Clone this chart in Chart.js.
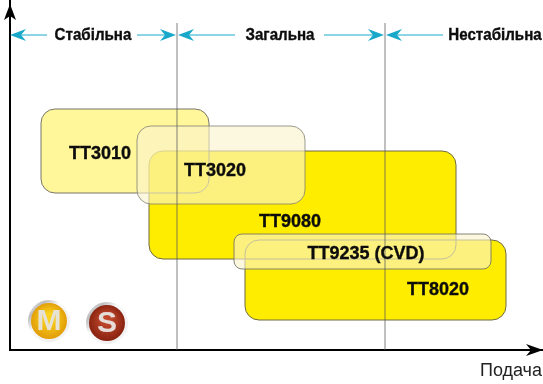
<!DOCTYPE html>
<html>
<head>
<meta charset="utf-8">
<style>
  html, body { margin: 0; padding: 0; background: #fff; }
  canvas { display: block; }
</style>
<script src="https://cdn.jsdelivr.net/npm/chart.js@4"></script>
</head>
<body>
<canvas id="chart" width="543" height="384"></canvas>
<script>
var grades = ['TT9080', 'TT8020', 'TT3010', 'TT3020', 'TT9235 (CVD)'];
var feedFrom = [139, 235, 31, 127, 224];
var feedTo = [446, 496, 199, 295, 481];
var depthFrom = [91, 30, 157, 146, 81];
var depthTo = [199, 110, 241, 224, 116];
var labelFeed = [280, 428, 90, 205, 356];
var labelDepth = [128, 60, 196, 179, 96];

var zones = ['Стабільна', 'Загальна', 'Нестабільна'];
var zoneCentres = [83, 270, 485];
var zoneLimits = [167, 375];
var topOfLimits = 327;
var zoneLevel = 315;
// blue arrows, [from, to], the head sits on "to"
var zoneArrows = [[37, 0], [127, 166], [225, 168], [314, 374], [433, 376]];

var fills = [
  '#ffed00',
  '#ffed00',
  'rgba(255, 236, 0, 0.4)',
  'rgba(250, 243, 205, 0.62)',
  'rgba(250, 243, 205, 0.62)'
];
var strokes = ['#6e6a45', '#6e6a45', '#77756a', 'rgba(120, 120, 110, 0.75)', 'rgba(110, 110, 100, 0.85)'];

function roundedBox(ctx, x0, y0, x1, y1, r) {
  ctx.beginPath();
  ctx.roundRect(x0, y0, x1 - x0, y1 - y0, r);
}

// the reference type is narrower and heavier than Liberation
function narrowText(ctx, text, x, y, squeeze) {
  ctx.save();
  ctx.translate(x, y);
  ctx.scale(squeeze, 1);
  ctx.lineWidth = 0.35;
  ctx.strokeStyle = ctx.fillStyle;
  ctx.strokeText(text, 0, 0);
  ctx.fillText(text, 0, 0);
  ctx.restore();
}

var boxes = {
  id: 'boxes',
  beforeDatasetsDraw: function(chart) {
    var ctx = chart.ctx;
    var sx = chart.scales.x, sy = chart.scales.y;
    function box(i) {
      return [sx.getPixelForValue(feedFrom[i]), sy.getPixelForValue(depthTo[i]), sx.getPixelForValue(feedTo[i]), sy.getPixelForValue(depthFrom[i])];
    }
    ctx.save();
    // the two solid ones show each other's outline
    [0, 1].forEach(function(i) {
      var b = box(i);
      roundedBox(ctx, b[0], b[1], b[2], b[3], 14);
      ctx.fillStyle = fills[i];
      ctx.fill();
    });
    [0, 1].forEach(function(i) {
      var b = box(i);
      roundedBox(ctx, b[0], b[1], b[2], b[3], 14);
      ctx.strokeStyle = strokes[i];
      ctx.lineWidth = 1;
      ctx.stroke();
    });
    [2, 3, 4].forEach(function(i) {
      var b = box(i);
      roundedBox(ctx, b[0], b[1], b[2], b[3], i == 4 ? 8 : 14);
      ctx.fillStyle = fills[i];
      ctx.fill();
      ctx.strokeStyle = strokes[i];
      ctx.lineWidth = 1;
      ctx.stroke();
    });
    ctx.restore();
  },
  afterDatasetsDraw: function(chart) {
    var ctx = chart.ctx;
    var sx = chart.scales.x, sy = chart.scales.y;
    ctx.save();

    // box names
    ctx.fillStyle = '#0c0c0c';
    ctx.font = 'bold 18px "Liberation Sans"';
    ctx.textAlign = 'center';
    ctx.textBaseline = 'middle';
    grades.forEach(function(g, i) {
      narrowText(ctx, g, sx.getPixelForValue(labelFeed[i]), sy.getPixelForValue(labelDepth[i]), 1);
    });

    // zone names and arrows
    ctx.font = 'bold 17px "Liberation Sans"';
    zones.forEach(function(z, i) {
      narrowText(ctx, z, sx.getPixelForValue(zoneCentres[i]), sy.getPixelForValue(zoneLevel), 0.89);
    });
    var y = sy.getPixelForValue(zoneLevel);
    zoneArrows.forEach(function(a) {
      var from = sx.getPixelForValue(a[0]), to = sx.getPixelForValue(a[1]);
      var dir = to > from ? 1 : -1;
      ctx.strokeStyle = '#1aa8ca';
      ctx.fillStyle = '#1aa8ca';
      ctx.lineWidth = 1;
      ctx.beginPath();
      ctx.moveTo(from, y);
      ctx.lineTo(to - dir * 8, y);
      ctx.stroke();
      ctx.beginPath();
      ctx.moveTo(to, y);
      ctx.lineTo(to - dir * 16, y - 6);
      ctx.lineTo(to - dir * 11, y);
      ctx.lineTo(to - dir * 16, y + 6);
      ctx.closePath();
      ctx.fill();
    });

    // black heads on both axes
    var ox = chart.chartArea.left, oy = chart.chartArea.bottom;
    ctx.fillStyle = '#000';
    ctx.beginPath();
    ctx.moveTo(ox, 4);
    ctx.lineTo(ox + 6, 20);
    ctx.lineTo(ox, 16);
    ctx.lineTo(ox - 6, 20);
    ctx.closePath();
    ctx.fill();
    ctx.beginPath();
    ctx.moveTo(543, oy);
    ctx.lineTo(526, oy - 6);
    ctx.lineTo(531, oy);
    ctx.lineTo(526, oy + 6);
    ctx.closePath();
    ctx.fill();

    badge(ctx, 49, 321, '#fbd21e', '#e09a06', 'M', '#e6e2d6');
    badge(ctx, 107, 323, '#c0492c', '#86200f', 'S', '#e6dcd8');
    ctx.restore();
  }
};

function badge(ctx, cx, cy, light, dark, letter, ink) {
  ctx.save();
  ctx.filter = 'blur(0.7px)';
  var rim = ctx.createLinearGradient(cx - 20, cy - 20, cx + 20, cy + 20);
  rim.addColorStop(0, '#f8f8f8');
  rim.addColorStop(0.2, '#bcbcbc');
  rim.addColorStop(0.4, '#fafafa');
  rim.addColorStop(0.8, '#f0f0f0');
  rim.addColorStop(1, '#ffffff');
  ctx.beginPath();
  ctx.arc(cx, cy, 21, 0, Math.PI * 2);
  ctx.fillStyle = rim;
  ctx.fill();
  var face = ctx.createRadialGradient(cx, cy - 4, 4, cx, cy, 19);
  face.addColorStop(0, light);
  face.addColorStop(1, dark);
  ctx.beginPath();
  ctx.arc(cx, cy, 18, 0, Math.PI * 2);
  ctx.fillStyle = face;
  ctx.fill();
  ctx.fillStyle = ink;
  ctx.font = 'bold 30px "Liberation Sans"';
  ctx.textAlign = 'center';
  ctx.textBaseline = 'middle';
  ctx.fillText(letter, cx, cy + 1);
  ctx.restore();
}

var limitSets = zoneLimits.map(function(v) {
  return {
    type: 'line',
    data: [{ x: v, y: 0 }, { x: v, y: topOfLimits }],
    borderColor: 'rgba(90, 90, 90, 0.5)',
    borderWidth: 1.5,
    pointRadius: 0,
    fill: false
  };
});

new Chart(document.getElementById('chart'), {
  type: 'scatter',
  data: { datasets: limitSets },
  plugins: [boxes],
  options: {
    responsive: false,
    animation: false,
    layout: { padding: { left: 0, right: 1, top: 0, bottom: 0 } },
    plugins: { legend: { display: false }, tooltip: { enabled: false } },
    scales: {
      x: {
        type: 'linear',
        min: 0,
        max: 532,
        ticks: { display: false },
        grid: { display: false, drawTicks: false },
        border: { color: '#000', width: 2 },
        title: {
          display: true,
          text: 'Подача',
          align: 'end',
          color: '#222',
          font: { family: '"Liberation Sans"', size: 18 },
          padding: { top: 9, bottom: 2 }
        },
        afterFit: function(scale) { scale.height = 34; }
      },
      y: {
        type: 'linear',
        min: 0,
        max: 350,
        ticks: { display: false },
        grid: { display: false, drawTicks: false },
        border: { color: '#000', width: 2 },
        afterFit: function(scale) { scale.width = 10; }
      }
    }
  }
});
</script>
</body>
</html>
